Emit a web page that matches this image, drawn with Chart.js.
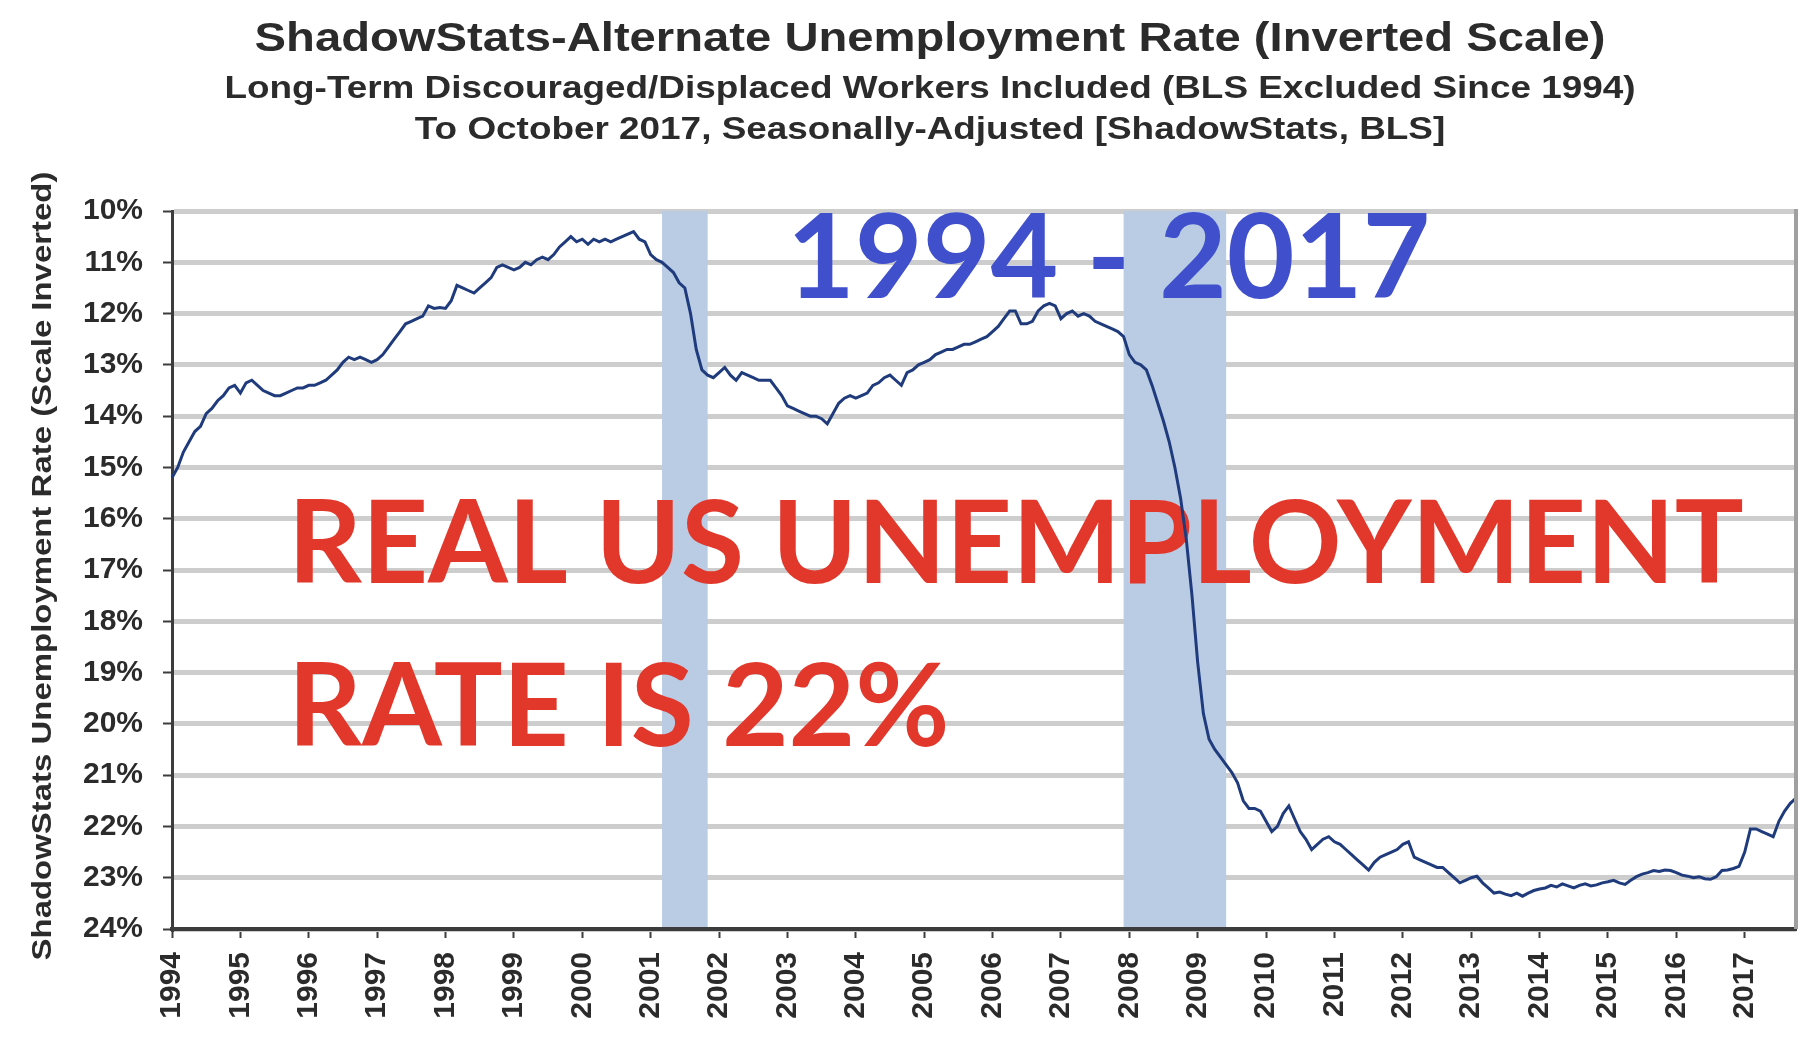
<!DOCTYPE html>
<html>
<head>
<meta charset="utf-8">
<title>ShadowStats-Alternate Unemployment Rate</title>
<script src="https://cdn.jsdelivr.net/npm/chart.js@4.4.0/dist/chart.umd.min.js"></script>
<style>
  html, body { margin: 0; padding: 0; background: #fff; }
  #wrap { width: 1820px; height: 1040px; }
</style>
</head>
<body>
<div id="wrap"><canvas id="chart" width="1820" height="1040"></canvas></div>
<script>
// years shown on the x axis (monthly data, Jan 1994 - Oct 2017)
const years = ['1994', '1995', '1996', '1997', '1998', '1999', '2000', '2001',
  '2002', '2003', '2004', '2005', '2006', '2007', '2008', '2009', '2010', '2011',
  '2012', '2013', '2014', '2015', '2016', '2017'];

// alternate unemployment rate, %, one row per year
const altRate = [
  15.2, 15.0, 14.7, 14.5, 14.3, 14.2, 13.95, 13.85, 13.7, 13.6, 13.45, 13.4,      // 1994
  13.55, 13.35, 13.3, 13.4, 13.5, 13.55, 13.6, 13.6, 13.55, 13.5, 13.45, 13.45,   // 1995
  13.4, 13.4, 13.35, 13.3, 13.2, 13.1, 12.95, 12.85, 12.9, 12.85, 12.9, 12.95,    // 1996
  12.9, 12.8, 12.65, 12.5, 12.35, 12.2, 12.15, 12.1, 12.05, 11.85, 11.9, 11.88,   // 1997
  11.9, 11.75, 11.45, 11.5, 11.55, 11.6, 11.5, 11.4, 11.3, 11.1, 11.05, 11.1,     // 1998
  11.15, 11.1, 11.0, 11.05, 10.95, 10.9, 10.95, 10.85, 10.7, 10.6, 10.5, 10.6,    // 1999
  10.55, 10.65, 10.55, 10.6, 10.55, 10.6, 10.55, 10.5, 10.45, 10.4, 10.55, 10.6,  // 2000
  10.85, 10.95, 11.0, 11.1, 11.2, 11.4, 11.5, 12.0, 12.7, 13.1, 13.2, 13.25,      // 2001
  13.15, 13.05, 13.2, 13.3, 13.15, 13.2, 13.25, 13.3, 13.3, 13.3, 13.45, 13.6,    // 2002
  13.8, 13.85, 13.9, 13.95, 14.0, 14.0, 14.05, 14.15, 13.95, 13.75, 13.65, 13.6,  // 2003
  13.65, 13.6, 13.55, 13.4, 13.35, 13.25, 13.2, 13.3, 13.4, 13.15, 13.1, 13.0,    // 2004
  12.95, 12.9, 12.8, 12.75, 12.7, 12.7, 12.65, 12.6, 12.6, 12.55, 12.5, 12.45,    // 2005
  12.35, 12.25, 12.1, 11.95, 11.95, 12.2, 12.2, 12.15, 11.95, 11.85, 11.8, 11.85, // 2006
  12.1, 12.0, 11.95, 12.05, 12.0, 12.05, 12.15, 12.2, 12.25, 12.3, 12.35, 12.45,  // 2007
  12.8, 12.95, 13.0, 13.1, 13.4, 13.75, 14.1, 14.5, 15.0, 15.6, 16.4, 17.5,       // 2008
  18.8, 19.8, 20.3, 20.5, 20.65, 20.8, 20.95, 21.15, 21.5, 21.65, 21.65, 21.7,    // 2009
  21.9, 22.1, 22.0, 21.75, 21.6, 21.85, 22.1, 22.25, 22.45, 22.35, 22.25, 22.2,   // 2010
  22.3, 22.35, 22.45, 22.55, 22.65, 22.75, 22.85, 22.7, 22.6, 22.55, 22.5, 22.45, // 2011
  22.35, 22.3, 22.6, 22.65, 22.7, 22.75, 22.8, 22.8, 22.9, 23.0, 23.1, 23.05,     // 2012
  23.0, 22.97, 23.1, 23.2, 23.3, 23.28, 23.32, 23.35, 23.3, 23.36, 23.3, 23.25,   // 2013
  23.22, 23.2, 23.15, 23.18, 23.12, 23.16, 23.2, 23.15, 23.12, 23.16, 23.14, 23.1, // 2014
  23.08, 23.05, 23.1, 23.13, 23.05, 22.98, 22.93, 22.9, 22.86, 22.88, 22.85, 22.86, // 2015
  22.9, 22.95, 22.97, 23.0, 22.98, 23.02, 23.03, 22.98, 22.86, 22.85, 22.82, 22.78, // 2016
  22.5, 22.05, 22.05, 22.1, 22.15, 22.2, 21.9, 21.7, 21.55, 21.45                  // 2017 (to Oct)
];

// recession shading (NBER)
const recessionStart = ['2001-03', '2007-12'];
const recessionEnd = ['2001-11', '2009-06'];

const yMin = 10;
const yMax = 24;

const titleText = 'ShadowStats-Alternate Unemployment Rate (Inverted Scale)';
const subtitleLines = [
  'Long-Term Discouraged/Displaced Workers Included (BLS Excluded Since 1994)',
  'To October 2017, Seasonally-Adjusted [ShadowStats, BLS]'
];
const yAxisTitle = 'ShadowStats Unemployment Rate (Scale Inverted)';
const periodNote = '1994 - 2017';
const noteLines = ['REAL US UNEMPLOYMENT', 'RATE IS 22%'];

// monthly category labels built from the years
const months = [];
years.forEach(y => {
  for (let m = 1; m <= 12; m++) months.push(y + '-' + String(m).padStart(2, '0'));
});
months.length = altRate.length;

const axisFont = { family: 'Liberation Sans', size: 30, weight: 'bold' };
const darkText = '#2b2b2b';
const axisColor = '#3c3c3c';

// the source text is wide and heavy, so stretch it a little sideways
function wideText(ctx, text, x, y, sx) {
  ctx.save();
  ctx.translate(x, y);
  ctx.scale(sx, 1);
  ctx.fillText(text, 0, 0);
  ctx.restore();
}

// shaded recession bands, drawn over the grid but under the line
const recessionBands = {
  id: 'recessionBands',
  beforeDatasetsDraw(chart) {
    const { ctx, chartArea, scales } = chart;
    ctx.save();
    ctx.fillStyle = '#b9cce4';
    recessionStart.forEach((s, k) => {
      const x0 = scales.x.getPixelForValue(months.indexOf(s));
      const x1 = scales.x.getPixelForValue(months.indexOf(recessionEnd[k]));
      ctx.fillRect(x0, chartArea.top, x1 - x0, chartArea.bottom - chartArea.top - 2);
    });

    // big overlay notes sit under the line too
    ctx.textAlign = 'left';
    ctx.textBaseline = 'alphabetic';
    ctx.font = 'bold 117px Lato';
    ctx.fillStyle = '#4050cc';
    ctx.fillText(periodNote, 787, 298);
    ctx.font = 'bold 115px Lato';
    ctx.fillStyle = '#e2372b';
    ctx.fillText(noteLines[0], 288, 583);
    ctx.fillText(noteLines[1], 288, 746);
    ctx.restore();
  }
};

const frameAndTitles = {
  id: 'frameAndTitles',
  afterDraw(chart) {
    const { ctx, chartArea } = chart;
    ctx.save();
    // right frame edge
    ctx.strokeStyle = '#a0a0a0';
    ctx.lineWidth = 4;
    ctx.beginPath();
    ctx.moveTo(chartArea.right, chartArea.top - 2);
    ctx.lineTo(chartArea.right, chartArea.bottom);
    ctx.stroke();

    ctx.fillStyle = darkText;
    ctx.textAlign = 'center';
    ctx.textBaseline = 'alphabetic';
    ctx.font = 'bold 40px "Liberation Sans"';
    wideText(ctx, titleText, 930, 51, 1.18);
    ctx.font = 'bold 31px "Liberation Sans"';
    wideText(ctx, subtitleLines[0], 930, 98, 1.19);
    wideText(ctx, subtitleLines[1], 930, 139, 1.19);

    // vertical axis title
    ctx.save();
    ctx.translate(44, (chartArea.top + chartArea.bottom) / 2 - 4);
    ctx.rotate(-Math.PI / 2);
    ctx.textBaseline = 'middle';
    ctx.font = 'bold 27px "Liberation Sans"';
    wideText(ctx, yAxisTitle, 0, 0, 1.22);
    ctx.restore();
    ctx.restore();
  }
};

new Chart(document.getElementById('chart'), {
  type: 'line',
  data: {
    labels: months,
    datasets: [{
      data: altRate,
      borderColor: '#1f3b7c',
      borderWidth: 3,
      pointRadius: 0,
      tension: 0,
      fill: false
    }]
  },
  options: {
    responsive: false,
    animation: false,
    devicePixelRatio: 1,
    layout: { padding: { top: 211, right: 24, left: 0, bottom: 0 } },
    plugins: {
      legend: { display: false },
      tooltip: { enabled: false }
    },
    scales: {
      x: {
        type: 'category',
        offset: false,
        grid: {
          offset: false,
          drawOnChartArea: false,
          tickLength: 9,
          tickColor: axisColor,
          tickWidth: 2
        },
        border: { color: axisColor, width: 4 },
        ticks: {
          autoSkip: false,
          minRotation: 90,
          maxRotation: 90,
          padding: 14,
          color: darkText,
          font: axisFont,
          callback: (v, i) => months[i].endsWith('-01') ? months[i].slice(0, 4) : null
        },
        afterFit: s => { s.height = 111; }
      },
      y: {
        reverse: true,
        min: yMin,
        max: yMax,
        ticks: {
          stepSize: 1,
          padding: 20,
          color: darkText,
          font: axisFont,
          callback: v => v + '%'
        },
        grid: {
          color: '#cdcdcd',
          lineWidth: 5,
          tickLength: 9,
          tickColor: axisColor,
          tickWidth: 2
        },
        border: { color: axisColor, width: 3 },
        afterFit: s => { s.width = 172; }
      }
    }
  },
  plugins: [recessionBands, frameAndTitles]
});
</script>
</body>
</html>
